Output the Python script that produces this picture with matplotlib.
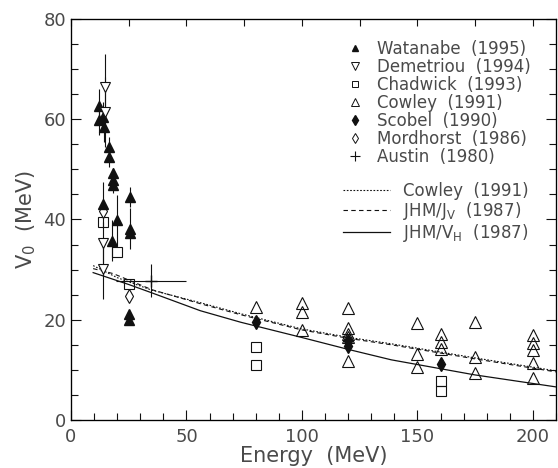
import numpy as np
import matplotlib
matplotlib.use('Agg')
import matplotlib.pyplot as plt
from matplotlib.lines import Line2D

# data (energy in MeV, V0 in MeV)
wat_e = [12.2, 12.2, 13.9, 14.3, 16.5, 16.5, 18.3, 18.3, 18.3, 25.7, 13.9, 20.0, 25.7, 25.7, 17.8, 25.2, 25.2]
wat_v = [62.6, 59.8, 60.4, 58.4, 54.4, 52.4, 49.2, 47.8, 46.8, 44.4, 43.0, 39.8, 38.2, 37.4, 35.8, 21.2, 20.0]
wat_err = [3.5, 3.0, 3.0, 3.0, 2.0, 2.0, 0, 2.5, 0, 2.0, 4.5, 5.0, 4.0, 0, 4.0, 0, 0]

dem_e = [14.8, 14.8, 13.9, 13.9]
dem_v = [66.4, 61.4, 35.4, 30.2]
dem_err = [6.6, 7.0, 4.0, 6.0]

cha_e = [13.9, 20.0, 25.2, 80, 80, 160, 160]
cha_v = [39.4, 33.6, 27.2, 14.6, 11.0, 7.8, 5.7]

cow_e = [80, 100, 100, 100, 120, 120, 120, 120, 120, 150, 150, 150,
         160, 160, 160, 175, 175, 175, 200, 200, 200, 200, 200]
cow_v = [22.6, 23.3, 21.5, 18.0, 22.4, 18.4, 17.2, 16.5, 11.8, 19.3, 13.2, 10.6,
         17.2, 15.6, 14.2, 19.6, 12.5, 9.4, 16.9, 15.3, 13.9, 11.4, 8.3]

sco_e = [80, 120, 120, 160]
sco_v = [19.6, 15.8, 14.8, 11.2]

mor_e = [13.9, 25.2]
mor_v = [41.6, 24.8]

aus_e = [34.8]
aus_v = [27.8]
aus_xerr = [15.2]
aus_yerr = [3.3]

# curves
cow_fit_e = [9.6, 20, 35, 56, 73.5, 99.6, 120, 138.7, 174.8, 210]
cow_fit_v = [30.8, 28.4, 25.9, 23.4, 21.2, 18.2, 16.5, 15.2, 12.4, 9.8]
jv_e = [9.6, 18.3, 35, 56, 73.5, 99.6, 120, 138.7, 174.8, 210]
jv_v = [30.2, 29.2, 26.0, 23.2, 21.0, 18.0, 16.3, 15.0, 12.2, 9.6]
vh_e = [9.6, 25.2, 34.8, 56, 73.5, 99.6, 119.9, 138.7, 174.8, 210]
vh_v = [29.4, 27.0, 25.4, 21.8, 19.5, 16.5, 14.1, 12.0, 9.0, 6.6]

plt.rcParams['font.family'] = ['DejaVu Sans']
col = '#111111'
tcol = '#4a4a4a'

fig = plt.figure(figsize=(5.58, 4.68), dpi=100)
ax = fig.add_axes([0.1272, 0.1026, 0.8692, 0.8568])

ekw = dict(ecolor=col, elinewidth=0.8, capsize=0, linestyle='none')
ax.errorbar(wat_e, wat_v, yerr=wat_err, marker='^', ms=7, mfc=col, mec=col, **ekw)
ax.errorbar(dem_e, dem_v, yerr=dem_err, marker='v', ms=7.5, mfc='white', mec=col, mew=0.8, **ekw)
ax.plot(cha_e, cha_v, 's', ms=6.5, mfc='none', mec=col, mew=0.8)
ax.plot(cow_e, cow_v, '^', ms=8, mfc='none', mec=col, mew=0.8)
ax.plot(sco_e, sco_v, 'd', ms=7, mfc=col, mec=col)
ax.plot(mor_e, mor_v, 'd', ms=7, mfc='white', mec=col, mew=0.8)
ax.errorbar(aus_e, aus_v, xerr=aus_xerr, yerr=aus_yerr, marker='+', ms=9, mec=col, **ekw)

ax.plot(cow_fit_e, cow_fit_v, color=col, lw=0.8, linestyle=(0, (1.5, 1.5)))
ax.plot(jv_e, jv_v, color=col, lw=0.8, linestyle=(0, (4, 3)))
ax.plot(vh_e, vh_v, color=col, lw=0.9)

ax.set_xlim(0, 210)
ax.set_ylim(0, 80)
ax.set_xticks([0, 50, 100, 150, 200])
ax.set_xticks(np.arange(0, 211, 10), minor=True)
ax.set_yticks([0, 20, 40, 60, 80])
ax.set_yticks(np.arange(0, 81, 5), minor=True)
ax.tick_params(which='both', direction='in', right=True, top=False,
               labelsize=13, labelcolor=tcol, color=col)
ax.tick_params(which='major', length=7, width=0.8)
ax.tick_params(which='minor', length=5, width=0.8)
ax.tick_params(axis='x', pad=6)
for s in ax.spines.values():
    s.set_linewidth(0.9)
    s.set_color(col)

# top axis carries ticks every 25 MeV
ax2 = ax.twiny()
ax2.set_xlim(0, 210)
ax2.set_xticks(np.arange(0, 211, 25))
ax2.set_xticklabels([])
ax2.tick_params(axis='x', direction='in', length=5, width=0.8, color=col)

ax.set_xlabel('Energy  (MeV)', fontsize=15, color=tcol, labelpad=0)
ax.set_ylabel(r'V$_0$  (MeV)', fontsize=15, color=tcol, labelpad=4)

# legends
mk = [Line2D([], [], ls='none', marker='^', ms=5, mfc=col, mec=col),
      Line2D([], [], ls='none', marker='v', ms=5.5, mfc='none', mec=col, mew=0.7),
      Line2D([], [], ls='none', marker='s', ms=5, mfc='none', mec=col, mew=0.7),
      Line2D([], [], ls='none', marker='^', ms=5.5, mfc='none', mec=col, mew=0.7),
      Line2D([], [], ls='none', marker='d', ms=5.5, mfc=col, mec=col),
      Line2D([], [], ls='none', marker='d', ms=5.5, mfc='none', mec=col, mew=0.7),
      Line2D([], [], ls='none', marker='+', ms=7, mec=col, mew=0.8)]
mk_labels = ['Watanabe  (1995)', 'Demetriou  (1994)', 'Chadwick  (1993)', 'Cowley  (1991)',
             'Scobel  (1990)', 'Mordhorst  (1986)', 'Austin  (1980)']
fig.legend(mk, mk_labels, loc='upper left', bbox_to_anchor=(347 / 558, 1 - 40 / 468),
           frameon=False, fontsize=12, handlelength=1.0, handletextpad=0.8,
           labelspacing=0.0, borderpad=0, borderaxespad=0, labelcolor=tcol)
ln = [Line2D([], [], color=col, lw=0.8, linestyle=(0, (1.5, 1.5))),
      Line2D([], [], color=col, lw=0.8, linestyle=(0, (4, 3))),
      Line2D([], [], color=col, lw=0.9)]
ln_labels = ['Cowley  (1991)', r'JHM/J$_\mathrm{V}$  (1987)', r'JHM/V$_\mathrm{H}$  (1987)']
fig.legend(ln, ln_labels, loc='upper left', bbox_to_anchor=(343 / 558, 1 - 182 / 468),
           frameon=False, fontsize=12, handlelength=2.8, handletextpad=0.8,
           labelspacing=0.0, borderpad=0, borderaxespad=0, labelcolor=tcol)

fig.savefig('out.png', dpi=100)
